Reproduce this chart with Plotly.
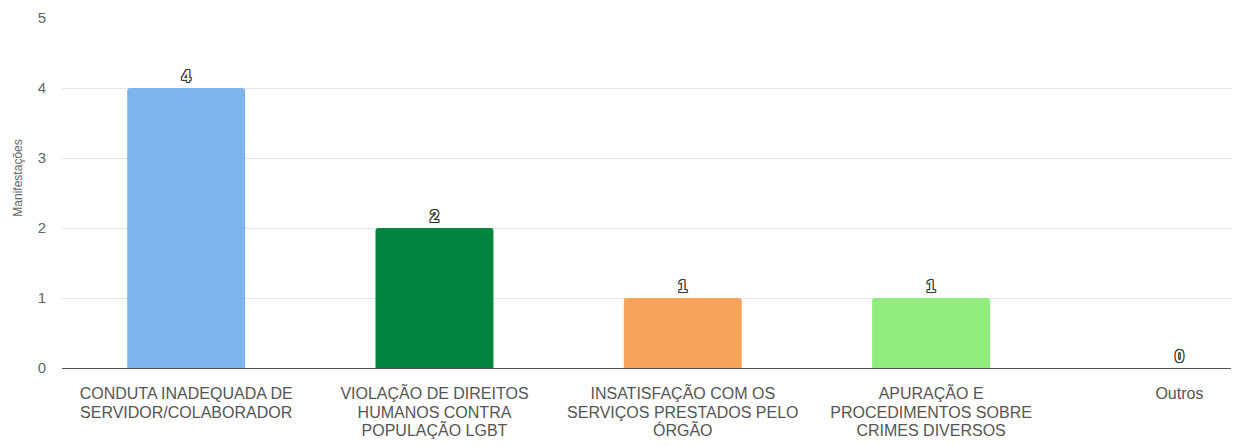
import plotly.graph_objects as go

categories = [
    "CONDUTA INADEQUADA DE<br>SERVIDOR/COLABORADOR",
    "VIOLAÇÃO DE DIREITOS<br>HUMANOS CONTRA<br>POPULAÇÃO LGBT",
    "INSATISFAÇÃO COM OS<br>SERVIÇOS PRESTADOS PELO<br>ÓRGÃO",
    "APURAÇÃO E<br>PROCEDIMENTOS SOBRE<br>CRIMES DIVERSOS",
    "Outros",
]
values = [4, 2, 1, 1, 0]
colors = ["#7cb5ec", "#00853f", "#f7a35c", "#90ed7d", "#434348"]
y_ticks = [0, 1, 2, 3, 4, 5]
y_title = "Manifestações"

outline = "-1px 0 #333, 1px 0 #333, 0 1px #333, 0 -1px #333, -1px -1px #333, 1px 1px #333, -1px 1px #333, 1px -1px #333"

tick_labels = [
    "<br>".join('<span style="font-size:16px">%s</span>' % part for part in c.split("<br>"))
    for c in categories
]

fig = go.Figure(
    go.Bar(
        x=list(range(len(categories))),
        y=values,
        marker=dict(color=colors, line=dict(width=0), cornerradius=3),
        width=0.475,
        text=[str(v) for v in values],
        textposition="outside",
        cliponaxis=False,
        textfont=dict(family="Arial, Liberation Sans", size=16, color="white",
                      weight="bold", shadow=outline),
    )
)

fig.update_layout(
    width=1239,
    height=446,
    margin=dict(l=54, r=8, t=10, b=86),
    paper_bgcolor="white",
    plot_bgcolor="white",
    showlegend=False,
    font=dict(family="Arial, Liberation Sans", color="#666666", size=12),
    annotations=[
        dict(
            text=y_title,
            xref="paper", yref="paper",
            x=0, y=0.541, xshift=-44,
            textangle=-90, showarrow=False,
            xanchor="center", yanchor="middle",
            font=dict(size=12, color="#666666"),
        )
    ],
)
fig.update_xaxes(
    range=[-0.5, 4.24],
    tickmode="array",
    tickvals=list(range(len(categories))),
    ticktext=tick_labels,
    tickfont=dict(size=14.6, color="#555555"),
    showgrid=False,
    showline=True,
    linecolor="#555555",
    linewidth=1,
    ticks="",
    ticklabelstandoff=12,
    zeroline=False,
    automargin=False,
)
fig.update_yaxes(
    range=[0, 5],
    tickvals=y_ticks,
    showgrid=True,
    gridcolor="#e6e6e6",
    zeroline=False,
    ticks="",
    ticklabelstandoff=15,
    tickfont=dict(size=15, color="#666666"),
    automargin=False,
)

fig.write_html("out.html")
